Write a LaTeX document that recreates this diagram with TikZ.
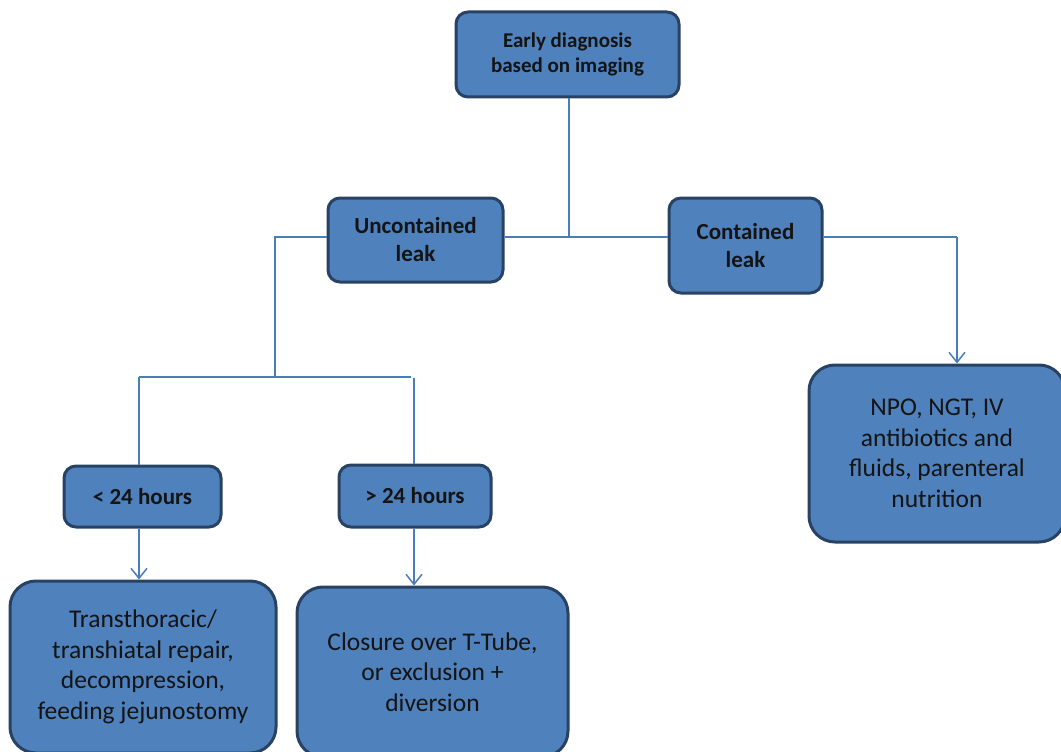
\documentclass[tikz,border=0pt]{standalone}
\usepackage{fontspec}
\setmainfont{Carlito}
\usetikzlibrary{arrows.meta}
\definecolor{boxfill}{RGB}{79,129,189}
\definecolor{boxborder}{RGB}{40,66,100}
\definecolor{conn}{RGB}{74,126,187}
\definecolor{txt}{RGB}{20,20,20}
\tikzset{
  smallbox/.style={draw=boxborder, fill=boxfill, line width=3pt, rounded corners=12pt,
    inner sep=0pt, align=center, text=txt, font=\fontsize{23}{28}\selectfont\bfseries},
  bigbox/.style={draw=boxborder, fill=boxfill, line width=3pt, rounded corners=26pt,
    inner sep=0pt, align=center, text=txt, font=\fontsize{25.5}{30.5}\selectfont},
  link/.style={draw=conn, line width=1.5pt},
  arrowlink/.style={link, -{Straight Barb[length=10pt,width=16pt,line width=1.5pt]}}
}
\begin{document}
\begin{tikzpicture}[x=1pt,y=-1pt]
\useasboundingbox (0,0) rectangle (1061,752);
\node[smallbox, minimum width=223pt, minimum height=85pt, font=\fontsize{21}{25}\selectfont\bfseries] (top) at (567.5,54.5) {Early diagnosis\\based on imaging};
\node[smallbox, minimum width=175pt, minimum height=84pt] (unc) at (415.5,240) {Uncontained\\leak};
\node[smallbox, minimum width=153pt, minimum height=95pt] (con) at (745.5,245.5) {Contained\\leak};
\node[bigbox, minimum width=256pt, minimum height=177pt] (npo) at (937,453.5) {NPO, NGT, IV\\antibiotics and\\fluids, parenteral\\nutrition};
\node[smallbox, minimum width=157pt, minimum height=61pt] (lt) at (142.5,496.5) {< 24 hours};
\node[smallbox, minimum width=152pt, minimum height=62pt] (gt) at (415,496) {> 24 hours};
\node[bigbox, minimum width=266pt, minimum height=172pt] (trans) at (143,667) {Transthoracic/\\transhiatal repair,\\decompression,\\feeding jejunostomy};
\node[bigbox, minimum width=271pt, minimum height=170pt] (clo) at (432.5,672) {Closure over T-Tube,\\or exclusion +\\diversion};

\coordinate (j) at (569,237);
\coordinate (k) at (275,237);
\coordinate (m) at (275,377);
\coordinate (a1) at (139,377);
\coordinate (a2) at (411,377);
\coordinate (a3) at (414,378);
\coordinate (c1) at (957,237);

\draw[link] (top.south -| j) -- (j);
\draw[link] (unc.east |- j) -- (con.west |- j);
\draw[link] (unc.west |- k) -- (k) -- (m);
\draw[link] (a1) -- (a2);
\draw[link] (a1) -- (a1 |- lt.north);
\draw[link] (a3) -- (a3 |- gt.north);
\draw[arrowlink] (a1 |- lt.south) -- (a1 |- trans.north);
\draw[arrowlink] (a3 |- gt.south) -- (a3 |- clo.north);
\draw[link] (con.east |- c1) -- (c1);
\draw[arrowlink] (c1) -- (c1 |- npo.north);
\end{tikzpicture}
\end{document}
